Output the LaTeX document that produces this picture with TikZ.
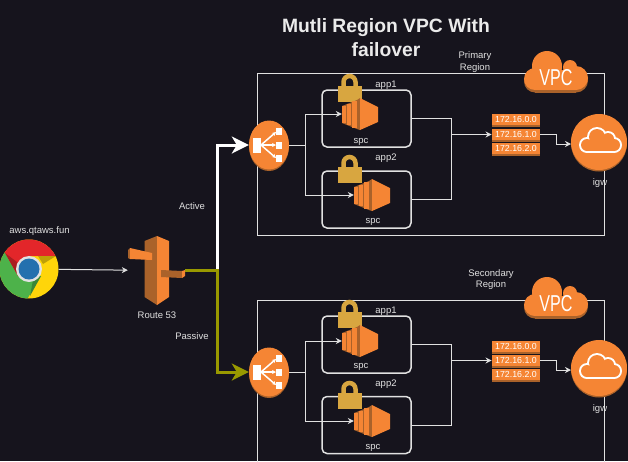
\documentclass[tikz,border=0pt]{standalone}
\usepackage{fontspec}
\usepackage{graphicx}
\setmainfont{Liberation Sans}
\usetikzlibrary{arrows.meta,shapes.geometric,shadows}

\definecolor{bgdark}{RGB}{22,20,29}
\definecolor{awsorange}{RGB}{245,133,52}
\definecolor{awsdark}{RGB}{170,98,42}
\definecolor{lockgold}{RGB}{216,166,64}
\definecolor{olivepath}{RGB}{153,153,0}
\definecolor{linegray}{RGB}{225,225,225}
\definecolor{chromered}{RGB}{227,38,42}
\definecolor{chromegreen}{RGB}{77,178,74}
\definecolor{chromeyellow}{RGB}{255,213,10}
\definecolor{chromeblue}{RGB}{36,112,174}

\tikzset{
	lbl/.style={text=linegray,font=\fontsize{9.5}{11.5}\selectfont,align=center},
	icon/.style={rectangle,draw=none,fill=none},
	frame/.style={rectangle,draw=linegray,line width=1pt,fill=none,minimum width=347pt},
	appbox/.style={rectangle,draw=linegray,line width=1.5pt,fill=none,rounded corners=5pt,minimum width=89pt,minimum height=57pt},
	orangeshape/.style={fill=awsorange,draw=none,drop shadow={shadow xshift=0pt,shadow yshift=-1.5pt,fill=awsdark,opacity=1}},
	elb/.style={ellipse,orangeshape,minimum width=40pt,minimum height=49pt},
	igw/.style={circle,orangeshape,minimum size=56pt},
	subnet/.style={rectangle,orangeshape,minimum width=48.5pt,minimum height=11.5pt,text=white,font=\fontsize{8.8}{10}\selectfont},
	conn/.style={draw=linegray,line width=1pt,-{Stealth[length=6pt,width=6pt]}},
	plain/.style={draw=linegray,line width=1pt},
	thick line/.style={line width=3pt,-{Stealth[length=17pt,width=17pt,inset=5pt]}}
}

% vpc cloud, centre at #1
\newcommand{\vpccloud}[1]{
	\begin{scope}[shift={(#1)}]
		\foreach \dy/\col in {2.5/awsdark,0/awsorange}{
			\fill[\col] (-9,-6+\dy) circle (15);
			\fill[\col] (14,-5+\dy) circle (7);
			\fill[\col] (20,6+\dy) circle (12);
			\fill[\col] (-21,7+\dy) circle (11);
			\fill[\col] (-21,-2+\dy) rectangle (20,18+\dy);
		}
		\node[inner sep=0,text=white] at (0,6) {\fontsize{23}{23}\selectfont\scalebox{0.7}[1]{VPC}};
	\end{scope}
}

% ec2 block, centre at #1
\newcommand{\ecicon}[1]{
	\begin{scope}[shift={(#1)}]
		\fill[awsdark] (-18,-8) -- (-3,-14) -- (0,-16) -- (0,16) -- (-3,15) -- (-18,9) -- cycle;
		\fill[awsorange] (-18,-8) rectangle (-14.5,9);
		\fill[awsorange] (-13.5,-10) rectangle (-9.5,11);
		\fill[awsorange] (-8.5,-13) rectangle (-3,14);
		\fill[awsorange] (0,-16) -- (18,-7) -- (18,8) -- (0,16) -- cycle;
	\end{scope}
}

% padlock, centre at #1
\newcommand{\lockicon}[1]{
	\begin{scope}[shift={(#1)}]
		\draw[lockgold,line width=4.5pt] (-6.5,0) -- (-6.5,-6) arc[start angle=180,end angle=360,radius=6] -- (5.5,0);
		\fill[lockgold] (-12,-2) rectangle (11.5,14);
	\end{scope}
}

% cloud inside the igw circle, centre at #1
\newcommand{\igwcloud}[1]{
	\begin{scope}[shift={(#1)}]
		\foreach \wd/\col in {1/white,-1/awsorange}{
			\fill[\col] (-13,3) circle (7+\wd);
			\fill[\col] (-3,-5) circle (9+\wd);
			\fill[\col] (8,-3) circle (7+\wd);
			\fill[\col] (14,3) circle (7+\wd);
			\fill[\col] (-13,-1-\wd) rectangle (14,10+\wd);
		}
	\end{scope}
}

% balancer glyph, centre at #1
\newcommand{\elbicon}[1]{
	\begin{scope}[shift={(#1)}]
		\fill[white] (-16,-7) rectangle (-8,8);
		\fill[white] (7,-17) rectangle (13,-10);
		\fill[white] (7,-3) rectangle (13,4);
		\fill[white] (7,10) rectangle (13,17);
		\draw[white,line width=1.5pt,-{Stealth[length=4pt,width=4pt]}] (-8,0) -- (7,-13);
		\draw[white,line width=1.5pt,-{Stealth[length=4pt,width=4pt]}] (-8,0) -- (7,0);
		\draw[white,line width=1.5pt,-{Stealth[length=4pt,width=4pt]}] (-8,0) -- (7,13);
	\end{scope}
}

\begin{document}
\begin{tikzpicture}[x=1pt,y=-1pt,every node/.style={inner sep=0}]
	\fill[bgdark] (0,0) rectangle (628,461);
	\useasboundingbox (0,0) rectangle (628,461);

	\node (TITLE) at (386,38) [align=center,text=white!92!black,font=\fontsize{19.3}{24}\selectfont\bfseries] {Mutli Region VPC With\\failover};

	% browser
	\node (CHROME) at (29,269) [circle,draw=none,minimum size=59pt] {};
	\begin{scope}
		\clip (CHROME) circle (29.5);
		\fill[chromeyellow] (-1,239) rectangle (60,300);
		\fill[chromered] (18,276) -- (5,253) -- (-1,238) -- (60,238) -- (60,256) -- (29,256) -- cycle;
		\fill[chromegreen] (5,253) -- (18,276) -- (41,276) -- (26,301) -- (-2,301) -- (-2,253) -- cycle;
		\fill[chromered!75!black] (5,253) -- (18,276) -- (17,262) -- cycle;
		\fill[chromeyellow!75!black] (38,256) -- (56,256) -- (43,264) -- cycle;
		\fill[chromegreen!75!black] (41,276) -- (30,296) -- (33,280) -- cycle;
	\end{scope}
	\fill[linegray] (29,269) circle (13);
	\fill[chromeblue] (29,269) circle (10.5);
	\node (URL) at (39.5,231) [lbl] {aws.qtaws.fun};

	% route 53
	\node (RFT) at (156.5,270.5) [icon,minimum width=57pt,minimum height=69pt] {};
	\fill[awsdark] (157,236) -- (144.5,241) -- (144.5,297) -- (157,305) -- cycle;
	\fill[awsorange] (157,236) -- (169,241) -- (169,297) -- (157,305) -- cycle;
	\fill[awsdark] (128,250) -- (130,248) -- (130,259) -- (128,258) -- cycle;
	\fill[awsorange] (130,248) -- (152,253) -- (152,260) -- (130,259) -- cycle;
	\fill[awsdark] (161,270) -- (182,271) -- (182,278) -- (161,277) -- cycle;
	\fill[awsorange] (182,271) -- (185,270) -- (185,276) -- (182,278) -- cycle;
	\node (RFTL) at (157,315) [lbl] {Route 53};

	\draw[conn] (CHROME) to (RFT);

	% regions
	\node (FRA) at (430.5,154.5) [frame,minimum height=162pt] {};
	\node (FRB) at (430.5,390) [frame,minimum height=180pt] {};
	\node (PRIM) at (475,62) [lbl] {Primary\\Region};
	\node (SECO) at (491,279.5) [lbl] {Secondary\\Region};

	% primary
	\node (BOXA) at (366.5,118.5) [appbox] {};
	\node (BOXB) at (366.5,199.5) [appbox] {};
	\node (ELBA) at (269,145) [elb] {};
	\elbicon{269,145}
	\node (LOCKA) at (350,88) [icon,minimum width=24pt,minimum height=28pt] {};
	\node (LOCKB) at (350,169) [icon,minimum width=24pt,minimum height=28pt] {};
	\lockicon{350,88}
	\lockicon{350,169}
	\node (ECA) at (360,114) [icon,minimum width=36pt,minimum height=32pt] {};
	\node (ECB) at (372,195) [icon,minimum width=36pt,minimum height=32pt] {};
	\ecicon{360,114}
	\ecicon{372,195}
	\node (APPA) at (386,85) [lbl] {app1};
	\node (SPCA) at (361,142) [lbl] {spc};
	\node (APPB) at (386,158) [lbl] {app2};
	\node (SPCB) at (373,222) [lbl] {spc};
	\node (SUBA) at (516,119.5) [subnet] {172.16.0.0};
	\node (SUBB) at (516,134.5) [subnet] {172.16.1.0};
	\node (SUBC) at (516,148.5) [subnet] {172.16.2.0};
	\node (IGWA) at (599,142) [igw] {};
	\igwcloud{600,142}
	\node (IGWAL) at (600,183) [lbl] {igw};
	\node (VPCA) at (556,72) [icon,minimum width=64pt,minimum height=42pt] {};
	\vpccloud{556,72}

	\coordinate (JA) at (305.5,145);
	\coordinate (JB) at (451,134.5);
	\coordinate (KA) at (556,144);
	\coordinate (LA) at (571,144);
	\draw[plain] (ELBA) to (JA);
	\draw[conn] (JA) |- (ECA.west);
	\draw[conn] (JA) |- (ECB.west);
	\draw[plain] (BOXA) -| (JB);
	\draw[plain] (BOXB) -| (JB);
	\draw[conn] (JB) to (SUBB);
	\draw[conn] (SUBB) -| (KA) to (LA);

	% secondary
	\node (BOXC) at (366.5,344.5) [appbox] {};
	\node (BOXD) at (366.5,425) [appbox] {};
	\node (ELBB) at (269,372) [elb] {};
	\elbicon{269,372}
	\node (LOCKC) at (350,314) [icon,minimum width=24pt,minimum height=28pt] {};
	\node (LOCKD) at (350,395) [icon,minimum width=24pt,minimum height=28pt] {};
	\lockicon{350,314}
	\lockicon{350,395}
	\node (ECC) at (360,341) [icon,minimum width=36pt,minimum height=32pt] {};
	\node (ECD) at (372,421) [icon,minimum width=36pt,minimum height=32pt] {};
	\ecicon{360,341}
	\ecicon{372,421}
	\node (APPC) at (386,311) [lbl] {app1};
	\node (SPCC) at (361,367) [lbl] {spc};
	\node (APPD) at (386,384) [lbl] {app2};
	\node (SPCD) at (373,448) [lbl] {spc};
	\node (SUBD) at (516,346.5) [subnet] {172.16.0.0};
	\node (SUBE) at (516,360.5) [subnet] {172.16.1.0};
	\node (SUBF) at (516,374.5) [subnet] {172.16.2.0};
	\node (IGWB) at (599,368) [igw] {};
	\igwcloud{600,368}
	\node (IGWBL) at (600,409) [lbl] {igw};
	\node (VPCB) at (556,298) [icon,minimum width=64pt,minimum height=42pt] {};
	\vpccloud{556,298}

	\coordinate (JC) at (305.5,372);
	\coordinate (JD) at (451,360.5);
	\coordinate (KB) at (556,370);
	\coordinate (LB) at (571,370);
	\draw[plain] (ELBB) to (JC);
	\draw[conn] (JC) |- (ECC.west);
	\draw[conn] (JC) |- (ECD.west);
	\draw[plain] (BOXC) -| (JD);
	\draw[plain] (BOXD) -| (JD);
	\draw[conn] (JD) to (SUBE);
	\draw[conn] (SUBE) -| (KB) to (LB);

	% failover paths
	\coordinate (SPLIT) at (217,270.5);
	\node (ACTIVE) at (192,206) [lbl] {Active};
	\node (PASSIVE) at (192,336) [lbl] {Passive};
	\draw[thick line,white] (SPLIT) |- (ELBA);
	\draw[thick line,olivepath] (RFT.east) -- (SPLIT) |- (ELBB);
\end{tikzpicture}
\end{document}
